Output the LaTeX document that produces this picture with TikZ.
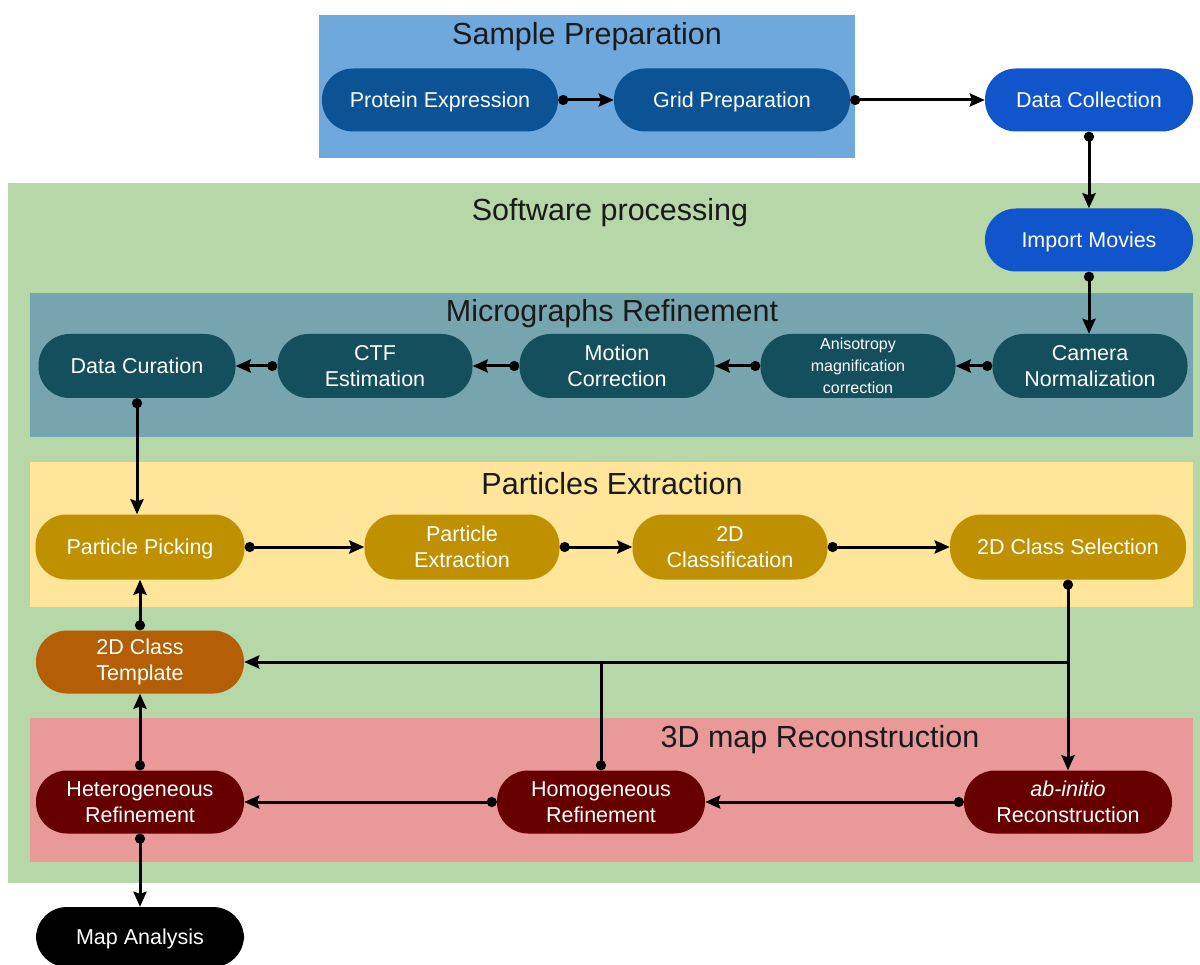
\documentclass[tikz,border=0pt]{standalone}
\usepackage{fontspec}
\setmainfont{Liberation Sans}
\usetikzlibrary{arrows.meta}
\definecolor{sampleBg}{HTML}{6FA8DC}
\definecolor{greenBg}{HTML}{B6D7A8}
\definecolor{microBg}{HTML}{76A5AF}
\definecolor{partBg}{HTML}{FFE599}
\definecolor{recBg}{HTML}{EA9999}
\definecolor{cProt}{HTML}{0B5394}
\definecolor{cColl}{HTML}{1155CC}
\definecolor{cMicro}{HTML}{134F5C}
\definecolor{cPart}{HTML}{BF9000}
\definecolor{cTmpl}{HTML}{B45F06}
\definecolor{cRec}{HTML}{660000}
\definecolor{titleText}{HTML}{1A1A1A}
\tikzset{
  pill/.style={rectangle, rounded corners=31pt, minimum width=208pt, minimum height=63pt,
    text=white, align=center, inner sep=0pt, font=\fontsize{21.5}{26}\selectfont},
  oneline/.style={text height=19pt, text depth=4.5pt},
  ttl/.style={font=\fontsize{30.5}{34}\selectfont, text=titleText, inner sep=0pt},
  conn/.style={line width=3pt, {Circle[length=10pt]}-{Stealth[length=15pt,width=13pt,inset=2pt]}},
  plain/.style={line width=3pt, {Circle[length=10pt]}-},
  arr/.style={line width=3pt, -{Stealth[length=15pt,width=13pt,inset=2pt]}}
}
\begin{document}
\begin{tikzpicture}[x=1pt,y=-1pt]
\useasboundingbox (0,0) rectangle (1200,965);
% backgrounds
\fill[sampleBg] (319,15) rectangle (855,158);
\fill[greenBg] (8,183) rectangle (1200,883);
\fill[microBg] (30,293) rectangle (1193,437);
\fill[partBg] (30,462) rectangle (1193,607);
\fill[recBg] (30,718) rectangle (1193,862);
% titles
\node[ttl] (tSample) at (587,37) {Sample Preparation};
\node[ttl] (tSoft) at (610,213) {Software processing};
\node[ttl] (tMicro) at (612,314) {Micrographs Refinement};
\node[ttl] (tPart) at (612,484) {Particles Extraction};
\node[ttl] (tRec) at (820,740) {3D map Reconstruction};
% nodes
\node[pill, oneline, fill=cProt, minimum width=236pt] (prot) at (440,100) {Protein Expression};
\node[pill, oneline, fill=cProt, minimum width=236pt] (grid) at (732,100) {Grid Preparation};
\node[pill, oneline, fill=cColl] (coll) at (1089,100) {Data Collection};
\node[pill, oneline, fill=cColl] (imp) at (1089,240) {Import Movies};
\node[pill, fill=cMicro, minimum width=195pt, minimum height=64pt] (cam) at (1090,366) {Camera\\Normalization};
\node[pill, fill=cMicro, minimum width=195pt, minimum height=64pt, font=\fontsize{16}{22}\selectfont] (aniso) at (858,366) {Anisotropy\\magnification\\correction};
\node[pill, fill=cMicro, minimum width=195pt, minimum height=64pt] (mot) at (617,366) {Motion\\Correction};
\node[pill, fill=cMicro, minimum width=195pt, minimum height=64pt] (ctf) at (375,366) {CTF\\Estimation};
\node[pill, oneline, fill=cMicro, minimum width=197pt, minimum height=64pt] (cur) at (137,366) {Data Curation};
\node[pill, oneline, fill=cPart, minimum width=209pt, minimum height=65pt] (pick) at (140,547) {Particle Picking};
\node[pill, fill=cPart, minimum width=195pt, minimum height=65pt] (pext) at (462,547) {Particle\\Extraction};
\node[pill, fill=cPart, minimum width=195pt, minimum height=65pt] (cls) at (730,547) {2D\\Classification};
\node[pill, oneline, fill=cPart, minimum width=236pt, minimum height=65pt] (sel) at (1068,547) {2D Class Selection};
\node[pill, fill=cTmpl] (tmpl) at (140,662) {2D Class\\Template};
\node[pill, fill=cRec] (het) at (140,802) {Heterogeneous\\Refinement};
\node[pill, fill=cRec] (hom) at (601,802) {Homogeneous\\Refinement};
\node[pill, fill=cRec] (abi) at (1068,802) {\textit{ab-initio}\\Reconstruction};
\node[pill, oneline, fill=black, minimum height=60pt] (map) at (140,937) {Map Analysis};
% connectors
\draw[conn] (prot.east) -- (grid.west);
\draw[conn] (grid.east) -- (coll.west);
\draw[conn] (coll.south) -- (imp.north);
\draw[conn] (imp.south) -- (imp.south |- cam.north);
\draw[conn] (cam.west) -- (aniso.east);
\draw[conn] (aniso.west) -- (mot.east);
\draw[conn] (mot.west) -- (ctf.east);
\draw[conn] (ctf.west) -- (cur.east);
\draw[conn] (cur.south) -- (cur.south |- pick.north);
\draw[conn] (pick.east) -- (pext.west);
\draw[conn] (pext.east) -- (cls.west);
\draw[conn] (cls.east) -- (sel.west);
\draw[conn] (sel.south) -- (abi.north);
\coordinate (j1) at (sel.south |- tmpl.east);
\draw[arr] (j1) -- (tmpl.east);
\draw[plain] (hom.north) -- (hom.north |- tmpl.east);
\draw[conn] (tmpl.north) -- (pick.south);
\draw[conn] (het.north) -- (tmpl.south);
\draw[conn] (abi.west) -- (hom.east);
\draw[conn] (hom.west) -- (het.east);
\draw[conn] (het.south) -- (map.north);
\end{tikzpicture}
\end{document}
